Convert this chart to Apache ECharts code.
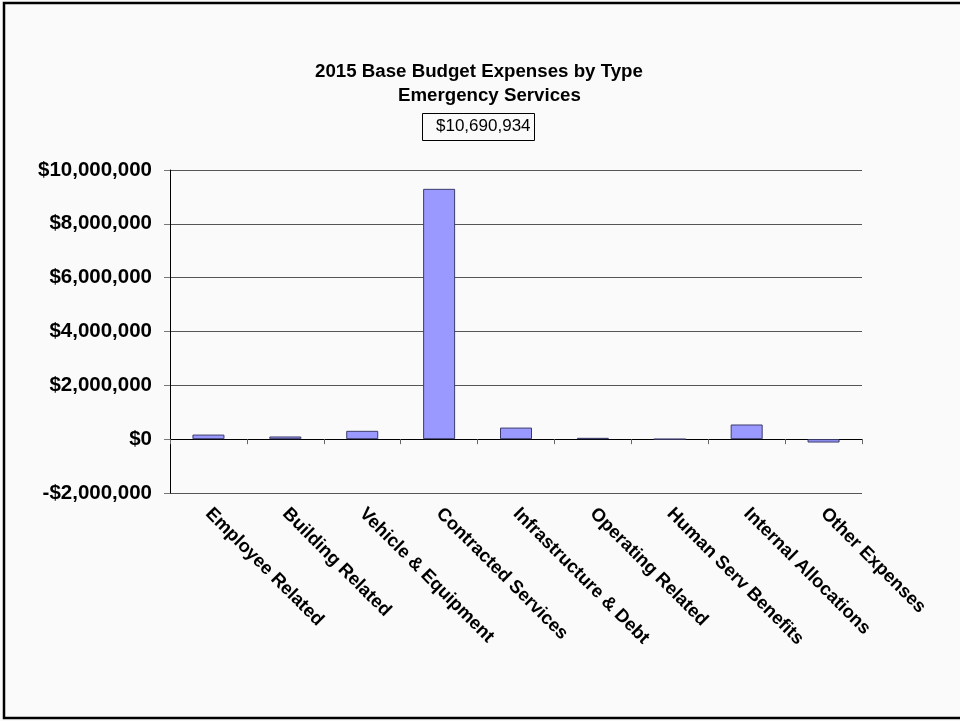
<!DOCTYPE html>
<html>
<head>
<meta charset="utf-8">
<script src="https://cdn.jsdelivr.net/npm/echarts@6/dist/echarts.min.js"></script>
<style>
  html, body { margin: 0; padding: 0; background: #fafafa; }
  #chart { width: 960px; height: 721px; }
</style>
</head>
<body>
<div id="chart"></div>
<script>
// Expense categories and 2015 base budget amounts (USD)
const categories = [
  'Employee Related', 'Building Related', 'Vehicle & Equipment',
  'Contracted Services', 'Infrastructure & Debt', 'Operating Related',
  'Human Serv Benefits', 'Internal Allocations', 'Other Expenses'
];
const amounts = [170000, 100000, 310000, 9300000, 430000, 50000, 0, 545000, -125000];
const totalLabel = '$10,690,934';
const titleLines = ['2015 Base Budget Expenses by Type', 'Emergency Services'];
const yTicks = { min: -2000000, max: 10000000, step: 2000000 };

const FONT = '"Liberation Sans", Arial, sans-serif';

function money(v) {
  const s = Math.abs(v).toLocaleString('en-US');
  return (v < 0 ? '-$' : '$') + s;
}

const chart = echarts.init(document.getElementById('chart'), null, { renderer: 'canvas' });

chart.setOption({
  backgroundColor: '#fafafa',
  animation: false,
  title: [
    { text: titleLines[0], left: 315, top: 62, padding: 0,
      textStyle: { fontFamily: FONT, fontSize: 18.7, fontWeight: 'bold', color: '#000' } },
    { text: titleLines[1], left: 398, top: 86, padding: 0,
      textStyle: { fontFamily: FONT, fontSize: 18.7, fontWeight: 'bold', color: '#000' } }
  ],
  grid: { left: 170, right: 98, top: 170, bottom: 228, containLabel: false },
  xAxis: {
    type: 'category',
    data: categories,
    axisLine: { onZero: true, lineStyle: { color: '#000', width: 1 } },
    axisTick: { show: true, length: 5, lineStyle: { color: '#666' } },
    axisLabel: {
      rotate: -45, margin: 18, interval: 0,
      fontFamily: FONT, fontSize: 18.4, fontWeight: 'bold', color: '#000'
    },
    splitLine: { show: false }
  },
  yAxis: {
    type: 'value',
    min: yTicks.min, max: yTicks.max, interval: yTicks.step,
    axisLine: { show: true, lineStyle: { color: '#000', width: 1 } },
    axisTick: { show: true, length: 6, lineStyle: { color: '#777' } },
    axisLabel: {
      margin: 18, formatter: money,
      fontFamily: FONT, fontSize: 20.5, fontWeight: 'bold', color: '#000'
    },
    splitLine: { show: true, lineStyle: { color: '#555', width: 1 } }
  },
  series: [{
    type: 'bar',
    data: amounts,
    barWidth: 32,
    itemStyle: { color: '#9999ff', borderColor: '#3b3b6b', borderWidth: 1 }
  }],
  graphic: [
    // outer frame
    { type: 'polyline', shape: { points: [[960, 3], [4, 3], [4, 718], [960, 718]] },
      style: { stroke: '#000', lineWidth: 2.5, fill: null }, z: 10 },
    // total box
    { type: 'rect', shape: { x: 422.5, y: 113.5, width: 112, height: 27 },
      style: { stroke: '#000', lineWidth: 1, fill: null }, z: 10 },
    { type: 'text', left: 436, top: 118,
      style: { text: totalLabel, font: '17px ' + FONT, fill: '#000' }, z: 10 }
  ]
});
</script>
</body>
</html>
